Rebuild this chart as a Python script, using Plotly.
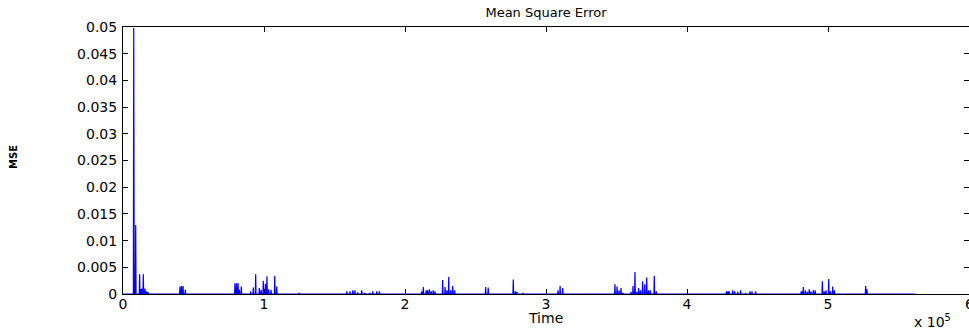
import plotly.graph_objects as go

# Spike positions (samples) and MSE values
spike_t = [7600, 8200, 9000, 11800, 12600, 13300, 14400, 15600, 16800, 17800,
           40400, 41500, 42600, 44200,
           79400, 80500, 81600, 82500, 83900, 90500, 92400, 94100, 96700, 98000,
           99500, 101000, 102100, 103300, 105000, 107600, 109000,
           125000, 158700, 161000, 163000, 164500, 166500, 169300, 171500,
           175000, 177100, 180000, 181800,
           211800, 213000, 215000, 216000, 217300, 218600, 220000, 221300,
           226700, 228400, 229700, 231000, 232400, 233800, 235200,
           257200, 259000, 276800, 278200, 279300, 283500,
           308500, 310000, 311800,
           348900, 350400, 351800, 353200, 354500, 360300, 361700, 363100, 364400,
           365700, 367000, 368500, 370000, 371400, 372700, 374000, 376800, 378200,
           428000, 429000, 430000, 432400, 433800, 436000, 438000, 441500,
           444700, 446100, 448700,
           481000, 481800, 482500, 484000, 485400, 486700, 488000, 489600, 490900,
           496000, 497300, 498600, 500500, 501700, 503300, 504500,
           526700, 527600]
spike_v = [0.0498, 0.0011, 0.0129, 0.0037, 0.0009, 0.0010, 0.0037, 0.0010, 0.0005, 0.0003,
           0.0014, 0.0015, 0.0015, 0.0008,
           0.0020, 0.0020, 0.0020, 0.0008, 0.0014, 0.0005, 0.0012, 0.0037, 0.0011, 0.0008,
           0.0025, 0.0019, 0.0033, 0.0009, 0.0008, 0.0034, 0.0014,
           0.0002, 0.0005, 0.0005, 0.0007, 0.0007, 0.0003, 0.0007, 0.0002,
           0.0002, 0.0005, 0.0005, 0.0005,
           0.0005, 0.0013, 0.0007, 0.0007, 0.0009, 0.0005, 0.0007, 0.0005,
           0.0026, 0.0013, 0.0007, 0.0032, 0.0007, 0.0015, 0.0007,
           0.0013, 0.0012, 0.0027, 0.0005, 0.0004, 0.0002,
           0.0007, 0.0015, 0.0011,
           0.0018, 0.0014, 0.0007, 0.0011, 0.0002, 0.0004, 0.0015, 0.0041, 0.0004,
           0.0011, 0.0007, 0.0024, 0.0018, 0.0031, 0.0007, 0.0007, 0.0034, 0.0005,
           0.0005, 0.0005, 0.0005, 0.0007, 0.0005, 0.0004, 0.0007, 0.0002,
           0.0005, 0.0005, 0.0005,
           0.0005, 0.0005, 0.0013, 0.0007, 0.0004, 0.0009, 0.0005, 0.0007, 0.0007,
           0.0024, 0.0005, 0.0007, 0.0028, 0.0005, 0.0014, 0.0007,
           0.0015, 0.0009]
t_start = 0
t_end = 562000

x_tick_vals = [0, 100000, 200000, 300000, 400000, 500000, 600000]
x_tick_text = ["0", "1", "2", "3", "4", "5", "6"]
y_tick_vals = [0, 0.005, 0.01, 0.015, 0.02, 0.025, 0.03, 0.035, 0.04, 0.045, 0.05]
y_tick_text = ["0", "0.005", "0.01", "0.015", "0.02", "0.025", "0.03", "0.035", "0.04", "0.045", "0.05"]

# Build the sampled series: zero baseline with the spikes
w = 250
xs, ys = [t_start], [0.0]
for t, v in sorted(zip(spike_t, spike_v)):
    xs += [t - w, t, t + w]
    ys += [0.0, v, 0.0]
xs.append(t_end)
ys.append(0.0)

fig = go.Figure()
fig.add_trace(go.Scatter(x=xs, y=ys, mode="lines",
                         line=dict(color="rgb(0,0,255)", width=1.2),
                         hoverinfo="skip", showlegend=False))

font = dict(family="DejaVu Sans, Liberation Sans, Arial", size=14, color="black")
axis_common = dict(showline=True, linecolor="black", linewidth=1, mirror="ticks",
                   ticks="inside", ticklen=5, tickcolor="black", tickwidth=1,
                   showgrid=False, zeroline=False, tickfont=font, layer="below traces")

# The last x tick label sits on the window edge; Plotly hides it, so draw it as text
last_x_label = dict(text=x_tick_text[-1], x=x_tick_vals[-1], xref="x", yref="paper",
                    y=-10 / 267, xanchor="center", yanchor="middle", showarrow=False,
                    font=font)

fig.update_layout(
    width=969, height=329,
    margin=dict(l=123, r=0, t=27, b=35),
    paper_bgcolor="white", plot_bgcolor="white",
    title=dict(text="Mean Square Error", x=(123 + 969) / 2 / 969, xanchor="center",
               y=1 - 12 / 329, yanchor="middle", yref="container",
               font=dict(family="DejaVu Sans, Arial", size=13, color="black")),
    xaxis=dict(range=[0, 600000], tickvals=x_tick_vals, ticktext=x_tick_text[:-1] + [""],
               ticklabelstandoff=-3, **axis_common),
    yaxis=dict(range=[0, 0.05], tickvals=y_tick_vals, ticktext=y_tick_text,
               ticklabelstandoff=2, **axis_common),
    annotations=[
        last_x_label,
        dict(text="Time", xref="paper", yref="paper", x=(545 - 123) / 846, y=-24 / 267,
             xanchor="center", yanchor="middle", showarrow=False,
             font=dict(family="DejaVu Sans, Arial", size=14, color="black")),
        dict(text="x 10<sup>5</sup>", xref="paper", yref="paper", x=(912 - 123) / 846,
             y=-27 / 267, xanchor="left", yanchor="middle", showarrow=False,
             font=dict(family="DejaVu Sans, Arial", size=14, color="black")),
        dict(text="<b>MSE</b>", xref="paper", yref="paper", x=(13 - 123) / 846,
             y=(294 - 157) / 267, xanchor="center", yanchor="middle", showarrow=False,
             textangle=-90, font=dict(family="DejaVu Sans, Arial", size=10, color="black")),
    ],
)

fig.write_html("out.html")
